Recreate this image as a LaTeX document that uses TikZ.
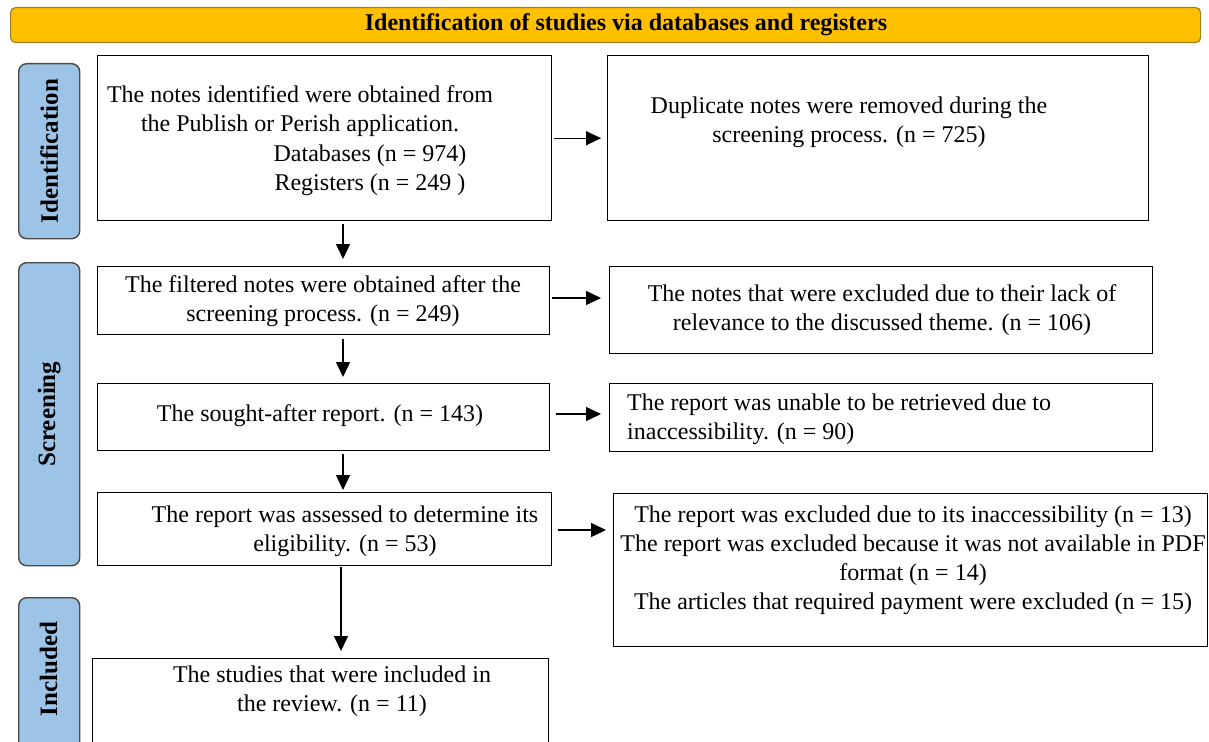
\documentclass[tikz,border=0pt]{standalone}
\usepackage{fontspec}
\setmainfont{Liberation Serif}
\usetikzlibrary{arrows.meta}
\definecolor{hdrgold}{HTML}{FFC000}
\definecolor{hdrline}{HTML}{A08020}
\definecolor{sideblue}{HTML}{9DC3E6}
\definecolor{sideline}{HTML}{4A4A4A}
\tikzset{
  box/.style={draw=black, line width=1.4pt, anchor=north west, inner sep=0pt},
  side/.style={draw=sideline, line width=1.4pt, fill=sideblue, rounded corners=8pt, anchor=north west, inner sep=0pt},
  sidetxt/.style={rotate=90, font=\fontsize{25}{28}\selectfont\bfseries},
  txt/.style={font=\fontsize{24}{29}\selectfont, align=center, inner sep=0pt},
  ltxt/.style={font=\fontsize{24}{29}\selectfont, align=left, inner sep=0pt, anchor=west},
  arr/.style={line width=1.4pt, -{Triangle[length=15pt,width=14pt]}},
}
\begin{document}
\begin{tikzpicture}[x=1pt,y=-1pt]
\useasboundingbox (0,0) rectangle (1209,741);
% header
\node[draw=hdrline, line width=1.2pt, fill=hdrgold, rounded corners=5pt, anchor=north west, minimum width=1190pt, minimum height=35pt] (hdr) at (10,7) {};
\node[font=\fontsize{24}{26}\selectfont\bfseries] (hdrt) at (626,25) {Identification of studies via databases and registers};
% side labels
\node[side, minimum width=61pt, minimum height=175pt] (sid) at (18,63) {};
\node[sidetxt] (sidt) at (sid.center) {Identification};
\node[side, minimum width=61pt, minimum height=303pt] (sscr) at (18,262) {};
\node[sidetxt] (sscrt) at (sscr.center) {Screening};
\begin{scope}
\clip (0,0) rectangle (1209,741);
\node[side, minimum width=61pt, minimum height=160pt] (sinc) at (18,597) {};
\end{scope}
\node[sidetxt] (sinct) at (48.5,669) {Included};
% left boxes
\node[box, minimum width=454pt, minimum height=165pt] (b1) at (97,55) {};
\node[txt] (b1a) at (300,111.5) {The notes identified were obtained from\\the Publish or Perish application.};
\node[txt] (b1b) at (370,170) {Databases (n = 974)\\Registers (n = 249 )};
\node[box, minimum width=452pt, minimum height=68pt] (b2) at (97,266) {};
\node[txt] (b2t) at (323,301.5) {The filtered notes were obtained after the\\screening process. (n = 249)};
\node[box, minimum width=452pt, minimum height=67pt] (b3) at (97,383) {};
\node[txt] (b3t) at (320,416) {The sought-after report. (n = 143)};
\node[box, minimum width=454pt, minimum height=73pt] (b4) at (97,492) {};
\node[txt] (b4t) at (345,531.5) {The report was assessed to determine its\\eligibility. (n = 53)};
\begin{scope}
\clip (0,0) rectangle (1209,741);
\node[box, minimum width=456pt, minimum height=90pt] (b5) at (92,658) {};
\end{scope}
\node[txt] (b5t) at (332,691.5) {The studies that were included in\\the review. (n = 11)};
% right boxes
\node[box, minimum width=541pt, minimum height=165pt] (r1) at (607,55) {};
\node[txt] (r1t) at (849,122.5) {Duplicate notes were removed during the\\screening process. (n = 725)};
\node[box, minimum width=543pt, minimum height=87pt] (r2) at (609,266) {};
\node[txt] (r2t) at (882,310.5) {The notes that were excluded due to their lack of\\relevance to the discussed theme. (n = 106)};
\node[box, minimum width=543pt, minimum height=68pt] (r3) at (609,383) {};
\node[ltxt] (r3t) at (627,419) {The report was unable to be retrieved due to\\inaccessibility. (n = 90)};
\node[box, minimum width=594pt, minimum height=153pt] (r4) at (613,493) {};
\node[txt] (r4t) at (913,560.5) {The report was excluded due to its inaccessibility (n = 13)\\The report was excluded because it was not available in PDF\\format (n = 14)\\The articles that required payment were excluded (n = 15)};
% horizontal arrows
\draw[arr, shorten <=2pt, shorten >=6pt] (b1.east) -- (b1.east -| r1.west);
\draw[arr, shorten <=2pt, shorten >=8pt] (b2.east |- 0,298) -- (r2.west |- 0,298);
\draw[arr, shorten <=6pt, shorten >=8pt] (b3.east |- 0,414) -- (r3.west |- 0,414);
\draw[arr, shorten <=6pt, shorten >=7pt] (b4.east |- 0,530) -- (r4.west |- 0,530);
% vertical arrows
\draw[arr, shorten <=3pt, shorten >=7pt] (b1.south -| 343,0) -- (b2.north -| 343,0);
\draw[arr, shorten <=4pt, shorten >=6pt] (b2.south -| 343,0) -- (b3.north -| 343,0);
\draw[arr, shorten <=3pt, shorten >=2pt] (b3.south -| 343,0) -- (b4.north -| 343,0);
\draw[arr, shorten <=1pt, shorten >=7pt] (b4.south -| 341,0) -- (b5.north -| 341,0);
\end{tikzpicture}
\end{document}
